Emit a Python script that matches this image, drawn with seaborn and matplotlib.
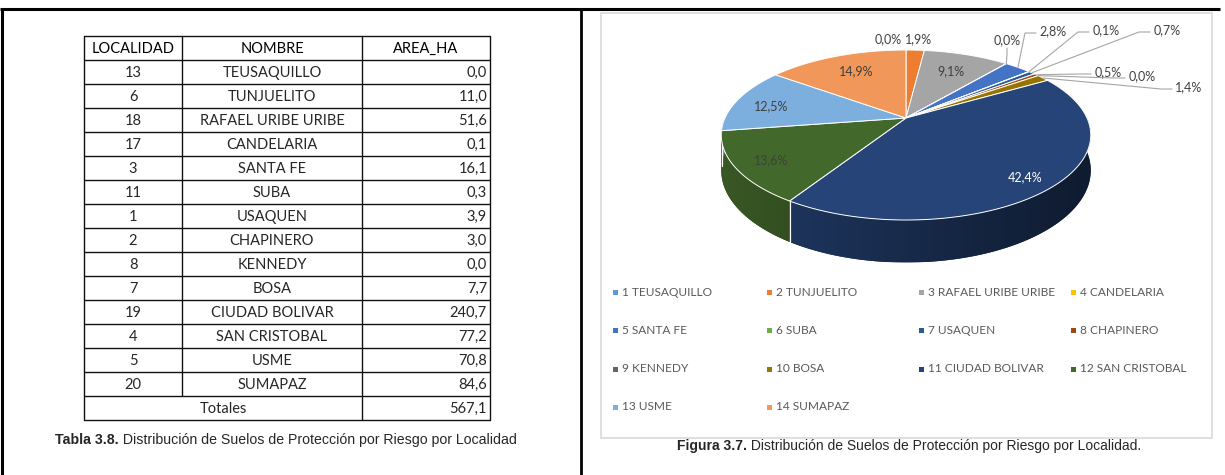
import matplotlib
matplotlib.use("Agg")
import matplotlib.pyplot as plt
from matplotlib.patches import Polygon, Rectangle
import numpy as np
import seaborn as sns

# Data (Tabla 3.8)
localidad = [13, 6, 18, 17, 3, 11, 1, 2, 8, 7, 19, 4, 5, 20]
nombre = ["TEUSAQUILLO", "TUNJUELITO", "RAFAEL URIBE URIBE", "CANDELARIA", "SANTA FE",
          "SUBA", "USAQUEN", "CHAPINERO", "KENNEDY", "BOSA", "CIUDAD BOLIVAR",
          "SAN CRISTOBAL", "USME", "SUMAPAZ"]
area_ha = [0.0, 11.0, 51.6, 0.1, 16.1, 0.3, 3.9, 3.0, 0.0, 7.7, 240.7, 77.2, 70.8, 84.6]
total_ha = 567.1
headers = ["LOCALIDAD", "NOMBRE", "AREA_HA"]

# Excel-like palette
colors = ["#5B9BD5", "#ED7D31", "#A5A5A5", "#FFC000", "#4472C4", "#70AD47", "#255E91",
          "#9E480E", "#636363", "#997300", "#264478", "#43682B", "#7CAFDD", "#F1975A"]

# label layout for the pie (text centre) and leader-line style
label_pos = [(888, 39), (919, 39), (951, 71), (1007, 40), (1053, 31), (1106, 30), (1167, 30),
             (1108, 72), (1142, 76), (1189, 87), (1025, 177), (771, 160), (771, 106), (856, 71)]
leader = ["none", "none", "none", "below", "left", "left", "left",
          "left", "left", "left", "none", "none", "none", "none"]

sns.set_style("white")
plt.rcParams["font.family"] = ["Lato", "DejaVu Sans"]

fig = plt.figure(figsize=(12.25, 4.75), dpi=100)
ax = fig.add_axes([0, 0, 1, 1])
ax.axis("off")

def fmt(v):
    return f"{v:.1f}".replace(".", ",")

# page frame
ax.plot([0, 1220], [9, 9], color="black", lw=2.2, solid_capstyle="butt")
ax.plot([1.5, 1.5], [9, 475], color="black", lw=2.2)
ax.plot([581, 581], [9, 475], color="black", lw=2.0)

# ---------------- table ----------------
col_x = [84, 182, 362, 490]
row_h = 24
top = 36
n_rows = len(nombre) + 2
bottom = top + n_rows * row_h
tcol = "#111111"
for i in range(n_rows + 1):
    y = top + i * row_h
    ax.plot([col_x[0], col_x[-1]], [y, y], color=tcol, lw=1.0, solid_capstyle="butt")
ax.plot([col_x[0], col_x[0]], [top, bottom], color=tcol, lw=1.0)
ax.plot([col_x[-1], col_x[-1]], [top, bottom], color=tcol, lw=1.0)
ax.plot([col_x[1], col_x[1]], [top, bottom - row_h], color=tcol, lw=1.0)
ax.plot([col_x[2], col_x[2]], [top, bottom], color=tcol, lw=1.0)

tfs = 10.5
for j, h in enumerate(headers):
    ax.text((col_x[j] + col_x[j + 1]) / 2, top + row_h / 2 + 1, h, ha="center", va="center",
            fontsize=tfs, color="black")
for i in range(len(nombre)):
    yc = top + (i + 1.5) * row_h + 1
    ax.text((col_x[0] + col_x[1]) / 2, yc, str(localidad[i]), ha="center", va="center", fontsize=tfs)
    ax.text((col_x[1] + col_x[2]) / 2, yc, nombre[i], ha="center", va="center", fontsize=tfs)
    ax.text(col_x[3] - 3, yc, fmt(area_ha[i]), ha="right", va="center", fontsize=tfs)
yc = bottom - row_h / 2 + 1
ax.text((col_x[0] + col_x[2]) / 2, yc, "Totales", ha="center", va="center", fontsize=tfs)
ax.text(col_x[3] - 3, yc, fmt(total_ha), ha="right", va="center", fontsize=tfs)

cap1 = ax.text(55, 440, "Tabla 3.8.", fontsize=10.2, fontweight="bold",
               family="Liberation Sans", ha="left", va="center")
ax.annotate(" Distribución de Suelos de Protección por Riesgo por Localidad", xy=(1, 0.5),
            xycoords=cap1, fontsize=10.2, family="Liberation Sans", ha="left", va="center")

# ---------------- chart box ----------------
ax.add_patch(Rectangle((601, 13), 611, 425, fill=False, edgecolor="#d9d9d9", lw=1.2))

# ---------------- 3D pie ----------------
cx, cy = 906, 118
A, B, k = 181, 81.6, 0.2
T = 34

def proj(f):
    th = np.deg2rad(90 - 360 * np.asarray(f))
    c, s = np.cos(th), np.sin(th)
    w = 1 + k * s
    return cx + A * c / w, cy - B * s / w, w, c

vals = np.array(area_ha)
frac = vals / vals.sum()
cum = np.concatenate([[0], np.cumsum(frac)])

def shade(col, fac):
    r, g, b = matplotlib.colors.to_rgb(col)
    return (r * fac, g * fac, b * fac)

# walls (front half only: f in [0.25, 0.75]) with horizontal gradient
for i in range(len(vals)):
    f0, f1 = max(cum[i], 0.25), min(cum[i + 1], 0.75)
    if f1 <= f0 or vals[i] == 0:
        continue
    fs = np.linspace(f0, f1, max(3, int((f1 - f0) * 600)))
    x, y, w, c = proj(fs)
    yb = y + T / w
    pts = list(zip(x, y)) + list(zip(x[::-1], yb[::-1]))
    wall = Polygon(pts, closed=True, facecolor=shade(colors[i], 0.6), edgecolor="none", zorder=2)
    ax.add_patch(wall)
    xs = np.linspace(x.min(), x.max(), 200)
    facs = np.clip(0.62 - 0.22 * (xs - cx) / A, 0.38, 0.86)
    img = np.array([[shade(colors[i], f) for f in facs]])
    im = ax.imshow(img, extent=[x.min(), x.max(), yb.max(), y.min()], aspect="auto",
                   interpolation="bilinear", zorder=2.1)
    im.set_clip_path(wall)
    for fb in (f0, f1):
        if 0.25 < fb < 0.75:
            xb, ybb, wb, _ = proj(fb)
            ax.plot([xb, xb], [ybb, ybb + T / wb], color="white", lw=0.8, zorder=2.5)

# top faces
for i in range(len(vals)):
    if vals[i] == 0:
        continue
    n = max(2, int((cum[i + 1] - cum[i]) * 600))
    x, y, _, _ = proj(np.linspace(cum[i], cum[i + 1], n))
    pts = [(cx, cy)] + list(zip(x, y))
    ax.add_patch(Polygon(pts, closed=True, facecolor=colors[i], edgecolor="white", lw=0.7, zorder=3))

# labels (percent of the table total)
lab_col = "#404040"
for i in range(len(vals)):
    pct = fmt(area_ha[i] / total_ha * 100) + "%"
    lx, ly = label_pos[i]
    tc = "white" if i == 10 else lab_col
    ax.text(lx, ly, pct, ha="center", va="center", fontsize=9, color=tc, zorder=5)
    fm = (cum[i] + cum[i + 1]) / 2
    px, py, _, _ = proj(fm)
    if leader[i] == "left":
        ax.plot([px, lx - 28, lx - 17], [py, ly + 2, ly + 2], color="#a6a6a6", lw=0.8, zorder=4)
    elif leader[i] == "below":
        ax.plot([px, lx, lx], [py, ly + 14, ly + 8], color="#a6a6a6", lw=0.8, zorder=4)

# legend
leg_x = [615, 769, 921, 1073]
leg_y = [292, 330, 369, 407]
for i, name in enumerate(nombre):
    r, c = divmod(i, 4)
    ax.add_patch(Rectangle((leg_x[c] - 2.5, leg_y[r] - 2.5), 5, 5, facecolor=colors[i],
                           edgecolor="none", zorder=3))
    ax.text(leg_x[c] + 7, leg_y[r], f"{i + 1} {name}", ha="left", va="center",
            fontsize=8.6, color="#595959")

cap2 = ax.text(677, 446, "Figura 3.7.", fontsize=10.0, fontweight="bold",
               family="Liberation Sans", ha="left", va="center")
ax.annotate(" Distribución de Suelos de Protección por Riesgo por Localidad.", xy=(1, 0.5),
            xycoords=cap2, fontsize=10.0, family="Liberation Sans", ha="left", va="center")

ax.set_xlim(0, 1225)
ax.set_ylim(475, 0)
fig.savefig("out.png", dpi=100)
